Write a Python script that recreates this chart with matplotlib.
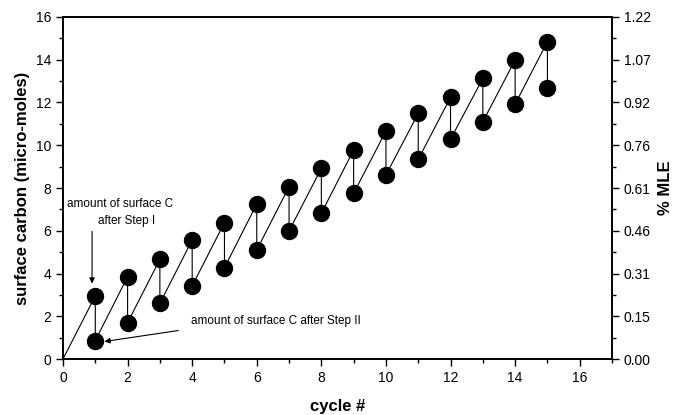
import matplotlib
matplotlib.use("Agg")
import matplotlib.pyplot as plt
from matplotlib.ticker import MultipleLocator, FixedLocator
import numpy as np

plt.rcParams['font.family'] = ['Liberation Sans', 'DejaVu Sans']

cycles = list(range(1, 16))
after_step1 = [2.95, 3.85, 4.66, 5.57, 6.38, 7.25, 8.06, 8.92, 9.78, 10.67, 11.49, 12.24, 13.13, 13.99, 14.85]
after_step2 = [0.86, 1.70, 2.60, 3.42, 4.27, 5.10, 5.99, 6.82, 7.75, 8.61, 9.34, 10.28, 11.10, 11.92, 12.66]
right_ticklabels = ["0.00", "0.15", "0.31", "0.46", "0.61", "0.76", "0.92", "1.07", "1.22"]

fig = plt.figure(figsize=(6.77, 4.15), dpi=100)
ax = fig.add_axes([63/677, 1 - 359/415, (612-63)/677, (359-17)/415])

# zigzag path
px = [0]
py = [0]
for c, t, b in zip(cycles, after_step1, after_step2):
    px += [c, c]
    py += [t, b]
ax.plot(px, py, color='black', lw=0.8, zorder=2)
ax.plot(cycles, after_step1, 'o', color='black', ms=11.5, zorder=3)
ax.plot(cycles, after_step2, 'o', color='black', ms=11.5, zorder=3)

ax.set_xlim(0, 17)
ax.set_ylim(0, 16)
ax.xaxis.set_major_locator(MultipleLocator(2))
ax.xaxis.set_minor_locator(MultipleLocator(1))
ax.yaxis.set_major_locator(MultipleLocator(2))
ax.yaxis.set_minor_locator(MultipleLocator(1))
ax.tick_params(which='both', direction='out', top=False, right=False, labelsize=10, width=1)
ax.tick_params(which='major', length=5)
ax.tick_params(which='minor', length=3)
for s in ax.spines.values():
    s.set_linewidth(1.2)

ax.set_xlabel('cycle #', fontsize=12, fontweight='bold', labelpad=10)
ax.set_ylabel('surface carbon (micro-moles)', fontsize=12, fontweight='bold', labelpad=4)

ax2 = ax.twinx()
ax2.set_ylim(0, 16)
ax2.yaxis.set_major_locator(FixedLocator(np.arange(0, 17, 2)))
ax2.yaxis.set_minor_locator(FixedLocator(np.arange(1, 16, 2)))
ax2.set_yticklabels(right_ticklabels)
ax2.tick_params(which='both', direction='out', labelsize=10, width=1)
ax2.tick_params(which='major', length=5)
ax2.tick_params(which='minor', length=3)
ax2.set_ylabel('% MLE', fontsize=12, fontweight='bold', labelpad=5)
for s in ax2.spines.values():
    s.set_linewidth(1.2)

ax.text(0.12, 7.25, 'amount of surface C', fontsize=8.5, va='center', ha='left')
ax.text(1.08, 6.45, 'after Step I', fontsize=8.5, va='center', ha='left')
ax.annotate('', xy=(0.9, 3.4), xytext=(0.9, 6.1),
            arrowprops=dict(arrowstyle='-|>', color='black', lw=0.8, mutation_scale=8))
ax.text(3.95, 1.78, 'amount of surface C after Step II', fontsize=8.5, va='center', ha='left')
ax.annotate('', xy=(1.2, 0.8), xytext=(3.65, 1.35),
            arrowprops=dict(arrowstyle='-|>', color='black', lw=0.8, mutation_scale=8))

fig.savefig('out.png', dpi=100)
